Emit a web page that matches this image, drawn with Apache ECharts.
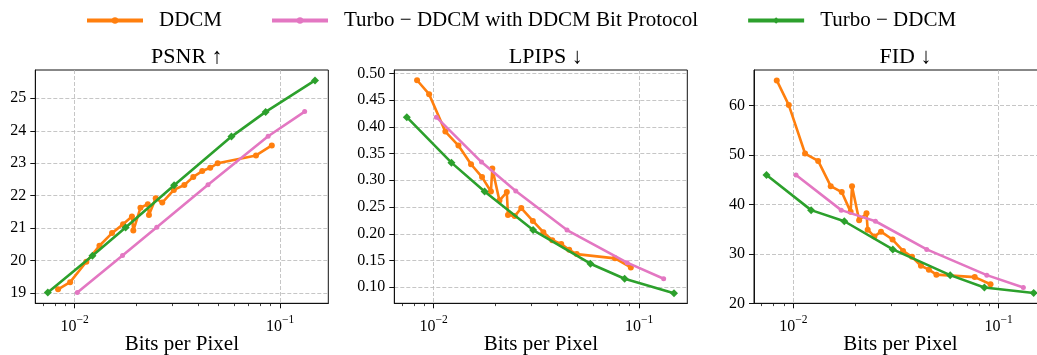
<!DOCTYPE html>
<html>
<head>
<meta charset="utf-8">
<script src="https://cdn.jsdelivr.net/npm/echarts@6/dist/echarts.min.js"></script>
<style>
  html, body { margin: 0; padding: 0; background: #fff; }
  #chart { width: 1037px; height: 355px; }
</style>
</head>
<body>
<div id="chart"></div>
<script>
// Rate–distortion measurements (bits per pixel vs. quality metric)
const ddcmBpp   = [0.0083, 0.0095, 0.0114, 0.0132, 0.0152, 0.0172, 0.0190, 0.0193, 0.0209, 0.0227, 0.0230, 0.0248, 0.0267, 0.0304, 0.0342, 0.0378, 0.0418, 0.0457, 0.0497, 0.0764, 0.0912];
const ddcmPsnr  = [19.12, 19.34, 19.97, 20.46, 20.85, 21.12, 21.36, 20.93, 21.63, 21.74, 21.41, 21.92, 21.79, 22.18, 22.33, 22.58, 22.76, 22.86, 23.00, 23.24, 23.55];
const ddcmLpips = [0.487, 0.461, 0.391, 0.365, 0.330, 0.306, 0.279, 0.322, 0.262, 0.278, 0.235, 0.233, 0.248, 0.224, 0.203, 0.188, 0.181, 0.170, 0.162, 0.154, 0.137];
const ddcmFid   = [65.1, 60.1, 50.3, 48.8, 43.7, 42.5, 38.5, 43.7, 36.8, 38.2, 34.9, 33.5, 34.5, 32.9, 30.6, 29.4, 27.6, 26.8, 25.8, 25.3, 23.85];

const protoBpp   = [0.0103, 0.0171, 0.0251, 0.0446, 0.0875, 0.1318];
const protoPsnr  = [19.02, 20.16, 21.03, 22.34, 23.83, 24.59];
const protoLpips = [0.418, 0.334, 0.280, 0.207, 0.146, 0.116];
const protoFid   = [45.95, 38.85, 36.6, 30.9, 25.7, 23.2];

const turboBpp   = [0.0074, 0.0122, 0.0177, 0.0305, 0.0580, 0.0851, 0.1480];
const turboPsnr  = [19.02, 20.15, 21.02, 22.32, 23.82, 24.58, 25.55];
const turboLpips = [0.418, 0.333, 0.279, 0.207, 0.144, 0.116, 0.089];
const turboFid   = [45.95, 38.85, 36.6, 30.9, 25.7, 23.2, 22.1];

const seriesNames = ['DDCM', 'Turbo − DDCM with DDCM Bit Protocol', 'Turbo − DDCM'];
const panelTitles = ['PSNR ↑', 'LPIPS ↓', 'FID ↓'];
const xLabel = 'Bits per Pixel';
const xMajorTicks = [0.01, 0.1];
const xMinorTicks = [0.007, 0.008, 0.009, 0.02, 0.03, 0.04, 0.05, 0.06, 0.07, 0.08, 0.09];
const psnrTicks  = [19, 20, 21, 22, 23, 24, 25];
const lpipsTicks = [0.10, 0.15, 0.20, 0.25, 0.30, 0.35, 0.40, 0.45, 0.50];
const fidTicks   = [20, 30, 40, 50, 60];

// ---- layout / styling ----
const FONT = 'Liberation Serif';
const COLORS = ['#ff7f0e', '#e377c2', '#2ca02c'];
const GRID_DASH = { type: [4, 2], color: '#b8b8b8', width: 0.8 };
const AX = { color: '#111', width: 1 };

const panels = [
  { left: 35.3, y: [18.69, 25.87], ticks: psnrTicks, dec: 0,
    vals: [ddcmPsnr, protoPsnr, turboPsnr] },
  { left: 394.3, y: [0.070, 0.5062], ticks: lpipsTicks, dec: 2,
    vals: [ddcmLpips, protoLpips, turboLpips] },
  { left: 754, y: [20, 67.2], ticks: fidTicks, dec: 0,
    vals: [ddcmFid, protoFid, turboFid] }
];
const PANEL_W = 293, PANEL_TOP = 70, PANEL_H = 233.3;
const X_RANGE = [0.00643, 0.1718];
const bppSets = [ddcmBpp, protoBpp, turboBpp];

const zip = (xs, ys) => xs.map((x, i) => [x, ys[i]]);

const grids = [], xAxes = [], yAxes = [], series = [], titles = [];
panels.forEach((p, i) => {
  grids.push({ left: p.left, top: PANEL_TOP, width: PANEL_W, height: PANEL_H,
               show: true, borderColor: '#111', borderWidth: 1,
               containLabel: false, outerBoundsMode: 'none' });
  titles.push({ text: panelTitles[i], left: p.left + PANEL_W / 2, top: 41, textAlign: 'center',
                textStyle: { fontFamily: FONT, fontSize: 22, fontWeight: 'normal', color: '#000' } });
  // major decade ticks + labels + grid lines
  xAxes.push({
    type: 'log', logBase: 10, gridIndex: i, min: X_RANGE[0], max: X_RANGE[1],
    name: xLabel, nameLocation: 'middle', nameGap: 31, nameMoveOverlap: false,
    nameTextStyle: { fontFamily: FONT, fontSize: 21, color: '#000' },
    axisLine: { show: true, lineStyle: AX },
    axisTick: { show: true, length: 5, customValues: xMajorTicks, lineStyle: AX },
    axisLabel: {
      customValues: xMajorTicks, margin: 11, color: '#000',
      formatter: v => '{b|10}{s|−' + Math.round(-Math.log10(v)) + '}',
      rich: {
        b: { fontFamily: FONT, fontSize: 16, color: '#000', lineHeight: 20, verticalAlign: 'bottom' },
        s: { fontFamily: FONT, fontSize: 11.5, color: '#000', lineHeight: 20, verticalAlign: 'top' }
      }
    },
    splitLine: { show: true, lineStyle: GRID_DASH }
  });
  // minor ticks between decades
  xAxes.push({
    type: 'log', logBase: 10, gridIndex: i, min: X_RANGE[0], max: X_RANGE[1], position: 'bottom',
    axisLine: { show: false },
    axisTick: { show: true, length: 2.8, customValues: xMinorTicks, lineStyle: { color: '#111', width: 0.8 } },
    axisLabel: { show: false },
    splitLine: { show: false }
  });
  yAxes.push({
    type: 'value', gridIndex: i, min: p.y[0], max: p.y[1],
    axisLine: { show: true, lineStyle: AX },
    axisTick: { show: true, length: 5, customValues: p.ticks, lineStyle: AX },
    axisLabel: {
      customValues: p.ticks, margin: 9, fontFamily: FONT, fontSize: 16, color: '#000',
      formatter: v => v.toFixed(p.dec)
    },
    splitLine: { show: true, lineStyle: GRID_DASH }
  });
  p.vals.forEach((ys, k) => {
    series.push({
      name: seriesNames[k], type: 'line', xAxisIndex: 2 * i, yAxisIndex: i,
      data: zip(bppSets[k], ys),
      symbol: k === 2 ? 'diamond' : 'circle',
      symbolSize: k === 2 ? 8 : (k === 0 ? 6 : 5),
      showSymbol: true,
      lineStyle: { color: COLORS[k], width: 2.6 },
      itemStyle: { color: COLORS[k] },
      z: 2 + k,
      silent: true
    });
  });
});

const chart = echarts.init(document.getElementById('chart'), null, { renderer: 'canvas' });
chart.setOption({
  animation: false,
  backgroundColor: '#fff',
  title: titles,
  legend: {
    data: seriesNames, left: 80, top: 5,
    itemWidth: 56, itemHeight: 8, itemGap: 48,
    lineStyle: { width: 4 },
    textStyle: { fontFamily: FONT, fontSize: 21, color: '#000', padding: [0, 0, 0, 11] }
  },
  grid: grids,
  xAxis: xAxes,
  yAxis: yAxes,
  series: series
});
</script>
</body>
</html>
